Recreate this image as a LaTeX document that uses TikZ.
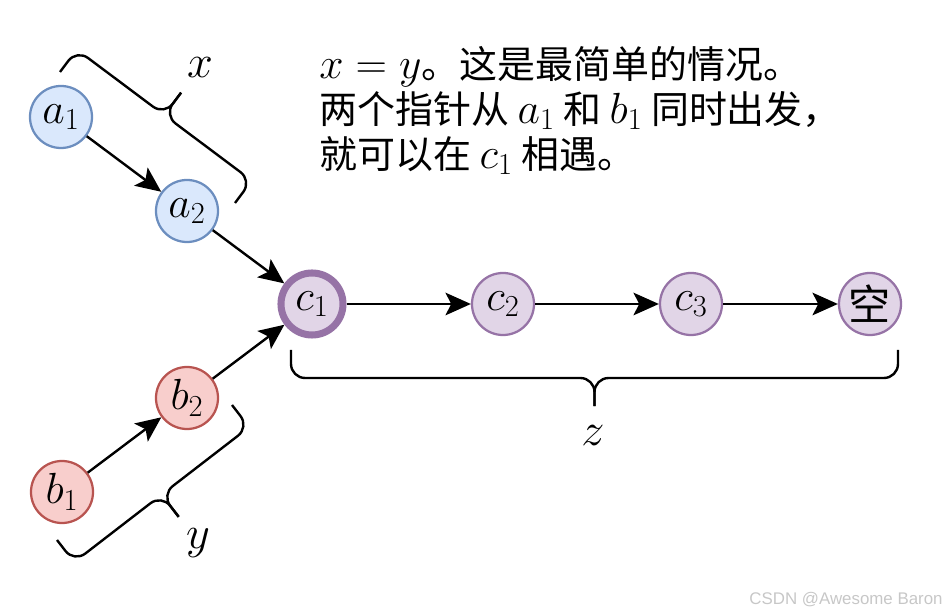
\RequirePackage{fix-cm}
\documentclass[tikz,border=0pt]{standalone}
\usepackage{amsmath}
\usepackage{fontspec}
\newfontfamily\cjkfont{Noto Sans CJK SC}
\newfontfamily\markfont{Liberation Sans}
\usetikzlibrary{arrows.meta,calc}

\definecolor{bluefill}{HTML}{DAE8FC}
\definecolor{blueline}{HTML}{6C8EBF}
\definecolor{redfill}{HTML}{F8CECC}
\definecolor{redline}{HTML}{B85450}
\definecolor{purplefill}{HTML}{E1D5E7}
\definecolor{purpleline}{HTML}{9673A6}

% math inside the Chinese note, set a bit larger
\newcommand{\notemath}[1]{{\fontsize{31}{31}\selectfont$#1$}}

% curly brace: name, start, end (tip on the left of start -> end)
\newcommand{\curlybrace}[3]{%
  \coordinate (#1-m) at ($(#2)!0.5!(#3)$);
  \coordinate (#1-tip) at ($(#1-m)!1.4cm!90:(#3)$);
  \draw[bracestyle] (#2) -- ($(#2)!0.7cm!90:(#3)$) -- ($(#1-m)!0.7cm!90:(#3)$) -- (#1-tip);
  \draw[bracestyle] (#3) -- ($(#3)!0.7cm!-90:(#2)$) -- ($(#1-m)!0.7cm!-90:(#2)$) -- (#1-tip);
}

\tikzset{
  basenode/.style={circle, minimum size=1.55cm, inner sep=0pt, line width=1.6pt,
    font=\fontsize{31}{31}\selectfont},
  anode/.style={basenode, fill=bluefill, draw=blueline},
  bnode/.style={basenode, fill=redfill, draw=redline},
  cnode/.style={basenode, fill=purplefill, draw=purpleline},
  arrowline/.style={line width=1.7pt, -{Stealth[length=18pt, width=16pt, inset=4pt]}},
  bracestyle/.style={line width=1.7pt, rounded corners=10pt},
  bracelabel/.style={font=\fontsize{33}{33}\selectfont},
}

\begin{document}
\begin{tikzpicture}[x=0.025cm, y=-0.025cm]
    \useasboundingbox (0,0) rectangle (949,615);
    % list nodes
    \node[anode] (a1) at (61,117) {$a_1$};
    \node[anode] (a2) at (187,211) {$a_2$};
    \node[bnode] (b1) at (62,492) {$b_1$};
    \node[bnode] (b2) at (187,398) {$b_2$};
    \node[cnode, line width=5pt] (c1) at (312,304) {$c_1$};
    \node[cnode] (c2) at (503,304) {$c_2$};
    \node[cnode] (c3) at (691,304) {$c_3$};
    \node[cnode, font=\fontsize{30}{30}\cjkfont] (empty) at (870,304) {空};
    % pointers
    \draw[arrowline] (a1) -- (a2);
    \draw[arrowline] (a2) -- (c1);
    \draw[arrowline] (b1) -- (b2);
    \draw[arrowline] (b2) -- (c1);
    \draw[arrowline] (c1) -- (c2);
    \draw[arrowline] (c2) -- (c3);
    \draw[arrowline] (c3) -- (empty);
    % braces
    \coordinate (xs) at (60,72);
    \coordinate (xe) at (235,203);
    \curlybrace{xb}{xs}{xe}
    \coordinate (ys) at (232,405);
    \coordinate (ye) at (57,540);
    \curlybrace{yb}{ys}{ye}
    \coordinate (zs) at (898,350);
    \coordinate (ze) at (291,350);
    \curlybrace{zb}{zs}{ze}
    \node[bracelabel] (xlabel) at (200,68) {$x$};
    \node[bracelabel] (ylabel) at (198,543) {$y$};
    \node[bracelabel] (zlabel) at (593,436) {$z$};
    % note
    \node[anchor=north west, align=left, inner sep=0pt,
      font=\fontsize{27}{32}\cjkfont] (note) at (319,46)
      {\notemath{x = y}。这是最简单的情况。\\
       两个指针从 \notemath{a_1} 和 \notemath{b_1} 同时出发，\\
       就可以在 \notemath{c_1} 相遇。};
    \node[font=\fontsize{12}{12}\markfont, text=black!22] (mark) at (846,600) {CSDN @Awesome Baron};
\end{tikzpicture}
\end{document}
